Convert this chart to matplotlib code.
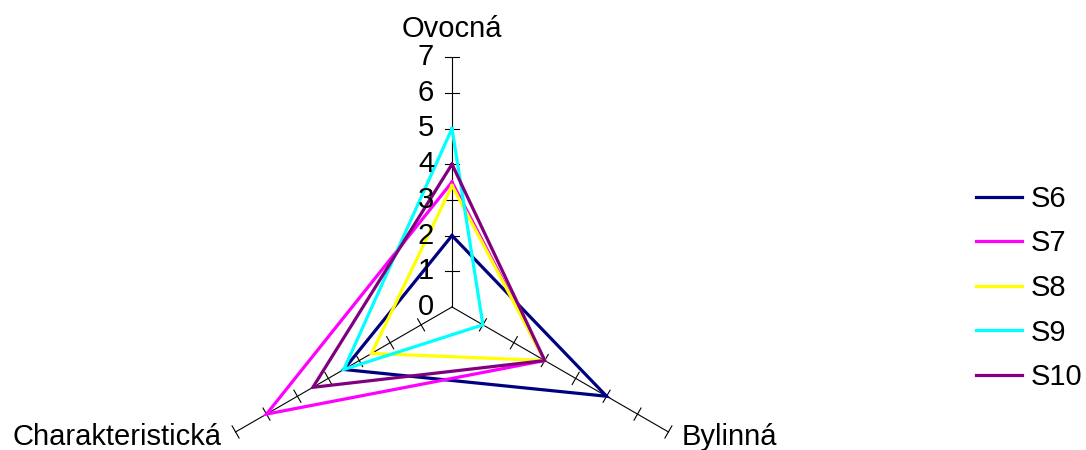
import numpy as np
import matplotlib
matplotlib.use('Agg')
import matplotlib.pyplot as plt

plt.rcParams['font.family'] = ['Liberation Sans', 'DejaVu Sans']

# ── Data ────────────────────────────────────────────────────────────────────
categories = ['Ovocná', 'Bylinná', 'Charakteristická']
series_names = ['S6', 'S7', 'S8', 'S9', 'S10']
s6 = [2.0, 5.0, 3.5]
s7 = [3.5, 3.0, 6.0]
s8 = [3.4, 3.0, 2.6]
s9 = [5.0, 1.0, 3.5]
s10 = [4.0, 3.0, 4.5]
tick_values = [0, 1, 2, 3, 4, 5, 6, 7]

COLOURS = ['#000080', '#FF00FF', '#FFFF00', '#00FFFF', '#800080']
ANGLES = np.deg2rad([90, -30, 210])
RMAX = 7
FS = 21

# ── Figure: 1 unit = UNIT px, centre at (CX, CY) px ─────────────────────────
W, H = 1086, 450
CX, CY = 452, 307
UNIT = 35.7

fig = plt.figure(figsize=(W / 100, H / 100), dpi=100)
ax = fig.add_axes([0, 0, 1, 1])
ax.set_xlim(-CX / UNIT, (W - CX) / UNIT)
ax.set_ylim(-(H - CY) / UNIT, CY / UNIT)
ax.axis('off')


def xy(r, a):
    return r * np.cos(a), r * np.sin(a)


# axes with perpendicular ticks
half = 7 / UNIT
for a in ANGLES:
    x1, y1 = xy(RMAX, a)
    ax.plot([0, x1], [0, y1], color='black', lw=0.8, zorder=1)
    px, py = -np.sin(a), np.cos(a)
    for v in tick_values[1:]:
        tx, ty = xy(v, a)
        ax.plot([tx - px * half, tx + px * half], [ty - py * half, ty + py * half],
                color='black', lw=0.8, zorder=1)

# scale labels on the top axis
for v in tick_values:
    ax.text(-0.5, v, str(v), ha='right', va='center', fontsize=FS)

# category labels
ax.text(0, 7.56, categories[0], ha='center', va='baseline', fontsize=FS)
ax.text(6.44, -3.87, categories[1], ha='left', va='baseline', fontsize=FS)
ax.text(-6.45, -3.87, categories[2], ha='right', va='baseline', fontsize=FS)

# series
for name, vals, col in zip(series_names, [s6, s7, s8, s9, s10], COLOURS):
    pts = [xy(v, a) for v, a in zip(vals, ANGLES)]
    xs = [p[0] for p in pts] + [pts[0][0]]
    ys = [p[1] for p in pts] + [pts[0][1]]
    ax.plot(xs, ys, color=col, lw=2.3, label=name, zorder=2,
            solid_joinstyle='miter')

ax.legend(loc='center left', bbox_to_anchor=(976 / W, 1 - 288 / H),
          frameon=False, fontsize=FS, handlelength=1.58, handletextpad=0.28,
          labelspacing=0.57, borderpad=0, borderaxespad=0)

fig.savefig('out.png', dpi=100)
